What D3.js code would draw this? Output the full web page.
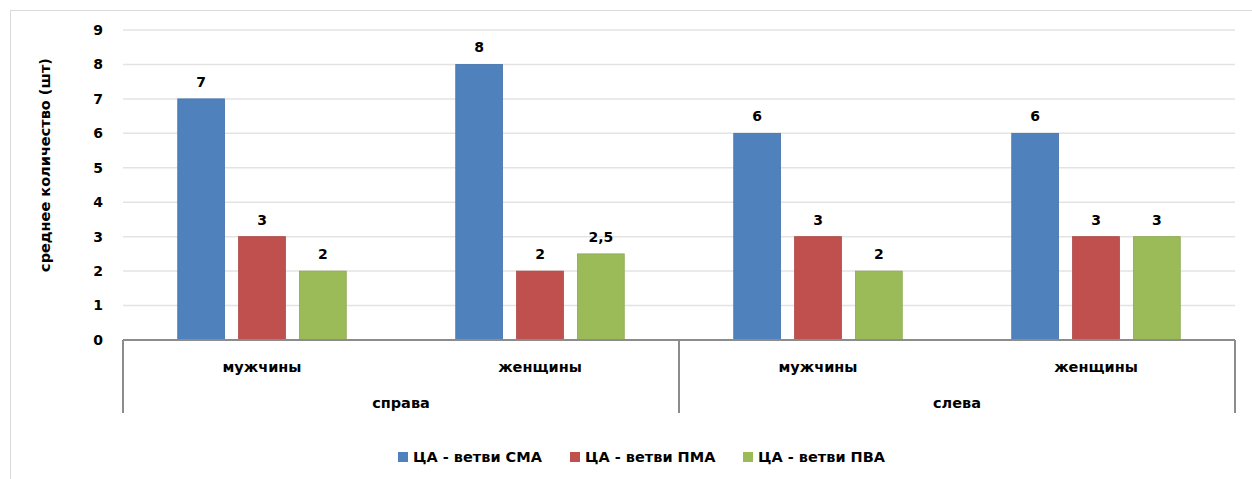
<!DOCTYPE html>
<html><head><meta charset="utf-8">
<script src="https://cdn.jsdelivr.net/npm/d3@7"></script>
<style>
html,body{margin:0;padding:0;background:#fff;}
svg text{font-family:"DejaVu Sans",sans-serif;font-weight:bold;fill:#000;}
</style></head>
<body><svg id="c" width="1252" height="479"></svg>
<script>
const groups = ["справа", "справа", "слева", "слева"];
const categories = ["мужчины", "женщины", "мужчины", "женщины"];
const groupLabels = ["справа", "слева"];
const seriesNames = ["ЦА - ветви СМА", "ЦА - ветви ПМА", "ЦА - ветви ПВА"];
const valuesSMA = [7, 8, 6, 6];
const valuesPMA = [3, 2, 3, 3];
const valuesPVA = [2, 2.5, 2, 3];
const yTicks = [0, 1, 2, 3, 4, 5, 6, 7, 8, 9];
const colors = ["#4F81BD", "#C0504D", "#9BBB59"];
const strokes = ["#4673AB", "#AC4744", "#8BA850"];

const series = [valuesSMA, valuesPMA, valuesPVA];
const svg = d3.select("#c");
const L = 123, R = 1235, T = 30, B = 340;

// outer frame
svg.append("rect").attr("x", 10.5).attr("y", 10.5).attr("width", 1250).attr("height", 480)
  .attr("fill", "none").attr("stroke", "#d9d9d9").attr("stroke-width", 1);

const idx = categories.map((d, i) => i);
const x0 = d3.scaleBand().domain(idx).range([L, R]).paddingInner(0).paddingOuter(0);
const x1 = d3.scaleBand().domain([0, 1, 2]).range([0, x0.bandwidth()]).paddingInner(0.23).paddingOuter(0.9);
const y = d3.scaleLinear().domain([0, 9]).range([B, T]);

// gridlines
svg.append("g").selectAll("line").data(yTicks.filter(d => d > 0)).join("line")
  .attr("x1", L).attr("x2", R).attr("y1", d => y(d)).attr("y2", d => y(d))
  .attr("stroke", "#e3e3e3").attr("stroke-width", 1.5);

// y tick labels
svg.append("g").selectAll("text").data(yTicks).join("text")
  .attr("x", 103).attr("y", d => y(d)).attr("dy", "0.35em")
  .attr("text-anchor", "end").style("font-size", "14px").text(d => d);

// y title
svg.append("text").attr("transform", `translate(50,165) rotate(-90)`)
  .attr("text-anchor", "middle").style("font-size", "14.5px").text("среднее количество (шт)");

// bars
const fmt = v => String(v).replace(".", ",");
series.forEach((vals, s) => {
  const g = svg.append("g");
  g.selectAll("rect").data(vals).join("rect")
    .attr("x", (d, i) => x0(i) + x1(s)).attr("width", x1.bandwidth())
    .attr("y", d => y(d)).attr("height", d => B - y(d))
    .attr("fill", colors[s]).attr("stroke", strokes[s]).attr("stroke-width", 0.8);
  g.selectAll("text").data(vals).join("text")
    .attr("x", (d, i) => x0(i) + x1(s) + x1.bandwidth() / 2)
    .attr("y", d => y(d) - 12).attr("text-anchor", "middle")
    .style("font-size", "14px").text(d => fmt(d));
});

// axis lines
const axisColor = "#8c8c8c";
svg.append("line").attr("x1", L).attr("x2", R).attr("y1", B).attr("y2", B)
  .attr("stroke", axisColor).attr("stroke-width", 2);
[L, (L + R) / 2, R].forEach(xv => {
  svg.append("line").attr("x1", xv).attr("x2", xv).attr("y1", B).attr("y2", 413)
    .attr("stroke", axisColor).attr("stroke-width", 2);
});

// category labels
svg.append("g").selectAll("text").data(categories).join("text")
  .attr("x", (d, i) => x0(i) + x0.bandwidth() / 2).attr("y", 372)
  .attr("text-anchor", "middle").style("font-size", "14.5px").text(d => d);

// group labels
svg.append("g").selectAll("text").data(groupLabels).join("text")
  .attr("x", (d, i) => x0(i * 2) + x0.bandwidth()).attr("y", 408)
  .attr("text-anchor", "middle").style("font-size", "14.5px").text(d => d);

// legend
const legX = [398, 570, 743];
const lg = svg.append("g").selectAll("g").data(seriesNames).join("g")
  .attr("transform", (d, i) => `translate(${legX[i]},457)`);
lg.append("rect").attr("x", 0).attr("y", -5).attr("width", 10).attr("height", 10)
  .attr("fill", (d, i) => colors[i]);
lg.append("text").attr("x", 15).attr("y", 0).attr("dy", "0.35em")
  .style("font-size", "14.5px").text(d => d);
</script></body></html>
